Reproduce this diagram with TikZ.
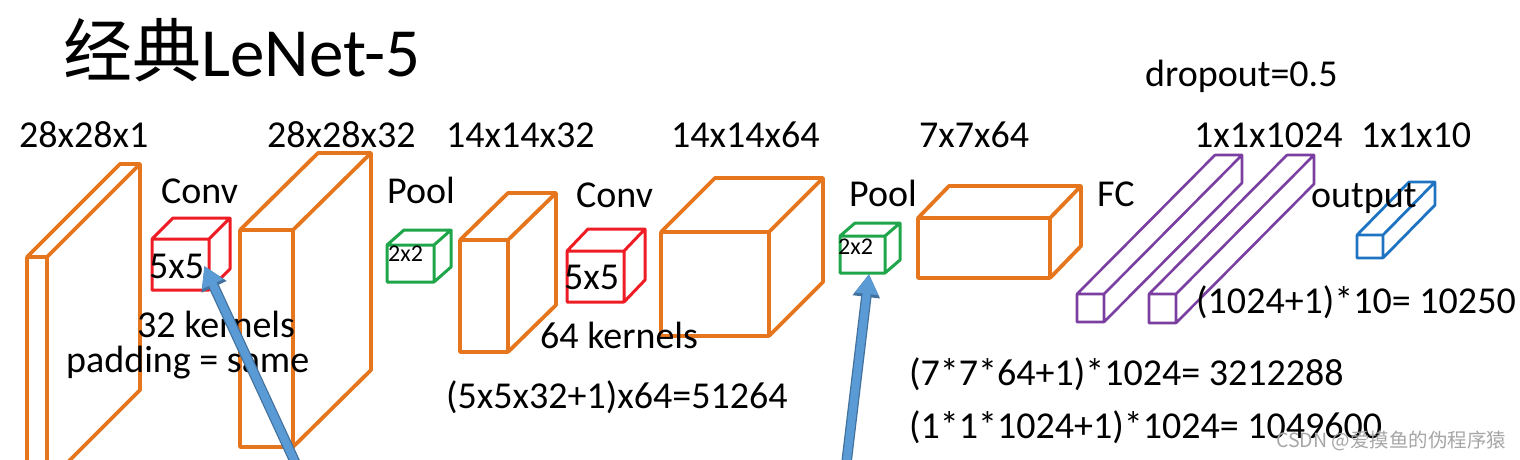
\documentclass[tikz,border=0pt]{standalone}
\usepackage{fontspec}
\setmainfont{Carlito}
\newfontfamily\cjk{Noto Sans CJK SC}
\usetikzlibrary{arrows.meta}

\definecolor{layerorange}{HTML}{E6761E}
\definecolor{kernelred}{HTML}{EE1C24}
\definecolor{poolgreen}{HTML}{1FA64A}
\definecolor{fcpurple}{HTML}{7A3FA0}
\definecolor{outblue}{HTML}{1F74C2}
\definecolor{arrowfill}{HTML}{5B9BD5}
\definecolor{arrowedge}{HTML}{41719C}

% front face (x1,y1)-(x2,y2), depth (dx,dy)
\newcommand{\layerbox}[7]{%
  \draw[#1] (#2,#3) rectangle (#4,#5)
    (#2,#3) -- ++(#6,#7) -- ++({#4-#2},0) -- ++(0,{#5-#3}) -- (#4,#5)
    (#4,#3) -- ++(#6,#7);}

\begin{document}
\begin{tikzpicture}[
    x=1pt, y=-1pt,
    lbl/.style={anchor=base west,inner sep=0pt,font=\fontsize{38}{40}\selectfont},
    tiny/.style={lbl,font=\fontsize{24}{26}\selectfont},
    fmap/.style={draw=layerorange,line width=3.8pt,line join=round},
    kern/.style={draw=kernelred,line width=3pt,line join=round},
    pool/.style={draw=poolgreen,line width=3pt,line join=round},
    dense/.style={draw=fcpurple,line width=2.6pt,line join=round},
    outp/.style={draw=outblue,line width=2.8pt,line join=round},
    bluearrow/.style={draw=arrowfill,line width=8pt,-{Triangle[width=22pt,length=20pt]},
                      preaction={draw=arrowedge,line width=10.5pt,-{Triangle[width=26pt,length=23pt]}}}
]
  \clip (0,0) rectangle (1520,460);

  % layers
  \layerbox{fmap}{27}{257}{47}{483}{93}{-93}
  \layerbox{kern}{152}{239}{209}{290}{21}{-21}
  \layerbox{fmap}{240}{230}{293}{447}{78}{-77}
  \layerbox{pool}{387}{245}{434}{282}{17}{-15}
  \layerbox{fmap}{460}{240}{508}{352}{48}{-47}
  \layerbox{kern}{567}{251}{624}{302}{21}{-22}
  \layerbox{fmap}{661}{232}{769}{336}{54}{-54}
  \layerbox{pool}{840}{236}{885}{273}{15}{-13}
  \layerbox{fmap}{918}{218}{1050}{278}{31}{-32}
  \layerbox{dense}{1077}{294}{1104}{322}{138}{-139}
  \layerbox{dense}{1149}{294}{1176}{323}{138}{-139}
  \layerbox{outp}{1357}{235}{1383}{258}{52}{-53}

  \node[lbl,font=\fontsize{69}{72}\selectfont] (title) at (63,77) {{\cjk 经典}LeNet-5};

  \node[lbl] (dim1) at (19,147) {28x28x1};
  \node[lbl] (dim2) at (267,147) {28x28x32};
  \node[lbl] (dim3) at (446,147) {14x14x32};
  \node[lbl] (dim4) at (671,147) {14x14x64};
  \node[lbl] (dim5) at (919,147) {7x7x64};
  \node[lbl] (dim6) at (1194,147) {1x1x1024};
  \node[lbl] (dim7) at (1361,147) {1x1x10};
  \node[lbl] (drop) at (1145,86) {dropout=0.5};

  \node[lbl] (conv1) at (161,203) {Conv};
  \node[lbl] (pool1) at (387,203) {Pool};
  \node[lbl] (conv2) at (576,207) {Conv};
  \node[lbl] (pool2) at (849,206) {Pool};
  \node[lbl] (fc) at (1097,206) {FC};
  \node[lbl] (out) at (1311,207) {output};

  \node[lbl] (ker1) at (149,278) {5x5};
  \node[tiny] (win1) at (388,261) {2x2};
  \node[lbl] (ker2) at (564,289) {5x5};
  \node[tiny] (win2) at (838,254) {2x2};

  \node[lbl] (num1) at (137,337) {32 kernels};
  \node[lbl] (pad) at (66,372) {padding = same};
  \node[lbl] (num2) at (540,348) {64 kernels};
  \node[lbl] (par1) at (446,408) {(5x5x32+1)x64=51264};
  \node[lbl] (par4) at (1196,313) {(1024+1)*10= 10250};
  \node[lbl] (par2) at (909,385) {(7*7*64+1)*1024= 3212288};
  \node[lbl] (par3) at (909,438) {(1*1*1024+1)*1024= 1049600};

  \node[lbl,font=\cjk\fontsize{19.5}{22}\selectfont,text=black!35] (mark) at (1276,447) {CSDN @爱摸鱼的伪程序猿};

  % pointers
  \coordinate (tail1) at (301,475);
  \coordinate (tail2) at (845,475);
  \coordinate (tip2) at (869,274);
  \draw[bluearrow] (tail1) -- (ker1.east);
  \draw[bluearrow] (tail2) -- (tip2);
\end{tikzpicture}
\end{document}
